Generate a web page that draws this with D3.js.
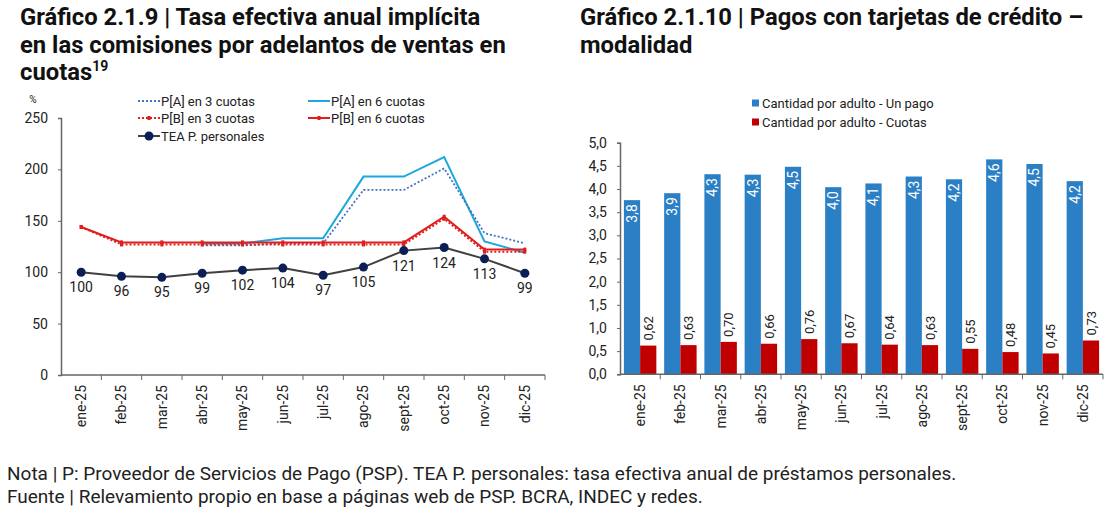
<!DOCTYPE html>
<html>
<head>
<meta charset="utf-8">
<script src="https://cdnjs.cloudflare.com/ajax/libs/d3/7.8.5/d3.min.js"></script>
<style>
  body { margin: 0; background: #fff; }
  svg { font-family: Roboto, "Noto Sans", sans-serif; }
</style>
</head>
<body>
<svg id="chart" width="1110" height="512"></svg>
<script>
// ---- data ----
var months = ["ene-25", "feb-25", "mar-25", "abr-25", "may-25", "jun-25", "jul-25", "ago-25", "sept-25", "oct-25", "nov-25", "dic-25"];

// Gráfico 2.1.9 (%)
var pa3 = [null, null, null, 126, 126, 128, 128, 180, 180, 201, 138, 128];
var pa6 = [null, null, null, 128, 128, 133, 133, 193, 193, 212, 130, 119];
var pb3 = [144, 127, 127, 127, 127, 127, 127, 127, 127, 152, 120, 120];
var pb6 = [144, 129, 129, 129, 129, 129, 129, 129, 129, 154, 122, 122];
var tea = [100, 96, 95, 99, 102, 104, 97, 105, 121, 124, 113, 99];
var leftTicks = [0, 50, 100, 150, 200, 250];

// Gráfico 2.1.10
var unPago = [3.76, 3.91, 4.32, 4.31, 4.48, 4.04, 4.12, 4.27, 4.21, 4.64, 4.54, 4.17];
var cuotas = [0.62, 0.63, 0.70, 0.66, 0.76, 0.67, 0.64, 0.63, 0.55, 0.48, 0.45, 0.73];
var rightTicks = [0, 0.5, 1, 1.5, 2, 2.5, 3, 3.5, 4, 4.5, 5];

var svg = d3.select("#chart");
var es = d3.formatLocale({decimal: ",", thousands: ".", grouping: [3], currency: ["$", ""]});
var f1 = es.format(".1f"), f2 = es.format(".2f");
var axisCol = "#666", txtCol = "#222";

// ---- titles ----
function title(x, lines) {
  var t = svg.append("text").attr("x", x).attr("y", 25)
    .style("font-size", "23.8px").style("font-weight", "bold").attr("fill", "#111");
  lines.forEach(function(l, i) {
    t.append("tspan").attr("x", x).attr("y", 25 + i * 27.5).text(l);
  });
  return t;
}
var t1 = title(20, ["Gráfico 2.1.9 | Tasa efectiva anual implícita", "en las comisiones por adelantos de ventas en", "cuotas"]);
t1.append("tspan").attr("dy", -9).style("font-size", "14px").text("19");
title(580, ["Gráfico 2.1.10 | Pagos con tarjetas de crédito –", "modalidad"]);

// ---- footer ----
svg.append("text").attr("x", 7).attr("y", 480).style("font-size", "19px").attr("fill", txtCol)
  .text("Nota | P: Proveedor de Servicios de Pago (PSP). TEA P. personales: tasa efectiva anual de préstamos personales.");
svg.append("text").attr("x", 7).attr("y", 503).style("font-size", "19px").attr("fill", txtCol)
  .text("Fuente | Relevamiento propio en base a páginas web de PSP. BCRA, INDEC y redes.");

// ---- shared helpers ----
function xAxisBand(x, yBase) {
  var g = svg.append("g");
  var edges = months.map(function(m) { return x(m); }).concat([x.range()[1]]);
  g.append("line").attr("x1", x.range()[0]).attr("x2", x.range()[1])
    .attr("y1", yBase).attr("y2", yBase).attr("stroke", axisCol).attr("stroke-width", 1.5);
  g.selectAll(".tk").data(edges.slice(1)).enter().append("line")
    .attr("x1", function(d) { return d; }).attr("x2", function(d) { return d; })
    .attr("y1", yBase).attr("y2", yBase + 5).attr("stroke", axisCol);
  g.selectAll(".lb").data(months).enter().append("text")
    .attr("transform", function(d) { return "translate(" + (x(d) + x.bandwidth() / 2) + "," + (yBase + 10) + ") rotate(-90)"; })
    .attr("text-anchor", "end").attr("dy", "0.35em")
    .style("font-size", "14px").attr("fill", txtCol).text(function(d) { return d; });
}
function yAxis(y, xPos, ticks, fmt) {
  var ax = d3.axisLeft(y).tickValues(ticks).tickSize(3).tickPadding(10).tickFormat(fmt);
  var g = svg.append("g").attr("transform", "translate(" + xPos + ",0)").call(ax);
  g.select(".domain").attr("stroke", axisCol).attr("stroke-width", 1.5);
  g.selectAll(".tick line").attr("stroke", axisCol);
  g.selectAll(".tick text").style("font-size", "14px").attr("fill", txtCol).style("font-family", "Roboto, sans-serif");
}

// ================= left chart =================
var xL = d3.scaleBand().domain(months).range([61, 545]);
var yL = d3.scaleLinear().domain([0, 250]).range([375, 118]);
var cx = function(i) { return xL(months[i]) + xL.bandwidth() / 2; };

yAxis(yL, 61, leftTicks, function(d) { return d; });
xAxisBand(xL, 375);
svg.append("text").attr("x", 33).attr("y", 103).attr("text-anchor", "middle")
  .style("font-size", "10px").attr("fill", txtCol).text("%");

var lineL = function(arr) {
  return d3.line().defined(function(d) { return d != null; })
    .x(function(d, i) { return cx(i); }).y(function(d) { return yL(d); })(arr);
};
var blueDot = "#4472c4", blueSolid = "#1ea7dd", redL = "#e01e1e", teaLine = "#404040", teaDot = "#0b1f56";

svg.append("path").attr("d", lineL(pa6)).attr("fill", "none").attr("stroke", blueSolid).attr("stroke-width", 2);
svg.append("path").attr("d", lineL(pa3)).attr("fill", "none").attr("stroke", blueDot).attr("stroke-width", 1.8).attr("stroke-dasharray", "2,2");
svg.append("path").attr("d", lineL(pb6)).attr("fill", "none").attr("stroke", redL).attr("stroke-width", 2);
svg.append("path").attr("d", lineL(pb3)).attr("fill", "none").attr("stroke", redL).attr("stroke-width", 2).attr("stroke-dasharray", "2,2");
[pb6, pb3].forEach(function(arr) {
  svg.append("g").selectAll("rect").data(arr).enter().append("rect")
    .attr("x", function(d, i) { return cx(i) - 1.5; }).attr("y", function(d) { return yL(d) - 2; })
    .attr("width", 3).attr("height", 4).attr("fill", redL);
});
svg.append("path").attr("d", lineL(tea)).attr("fill", "none").attr("stroke", teaLine).attr("stroke-width", 2);
svg.append("g").selectAll("circle").data(tea).enter().append("circle")
  .attr("cx", function(d, i) { return cx(i); }).attr("cy", function(d) { return yL(d); })
  .attr("r", 4.5).attr("fill", teaDot);
svg.append("g").selectAll("text").data(tea).enter().append("text")
  .attr("x", function(d, i) { return cx(i); }).attr("y", function(d) { return yL(d) + 20; })
  .attr("text-anchor", "middle").style("font-size", "14px").attr("fill", txtCol)
  .text(function(d) { return d; });

// legend left
var legL = [
  {name: "P[A] en 3 cuotas", x: 138, y: 101, c: blueDot, dash: "2,2", mk: null},
  {name: "P[B] en 3 cuotas", x: 138, y: 118, c: redL, dash: "2,2", mk: "rect"},
  {name: "TEA P. personales", x: 138, y: 136, c: teaLine, dash: null, mk: "circle"},
  {name: "P[A] en 6 cuotas", x: 308, y: 101, c: blueSolid, dash: null, mk: null},
  {name: "P[B] en 6 cuotas", x: 308, y: 118, c: redL, dash: null, mk: "rect"}
];
legL.forEach(function(d) {
  var g = svg.append("g");
  g.append("line").attr("x1", d.x).attr("x2", d.x + 22).attr("y1", d.y).attr("y2", d.y)
    .attr("stroke", d.c).attr("stroke-width", 2).attr("stroke-dasharray", d.dash);
  if (d.mk === "rect") g.append("rect").attr("x", d.x + 9.5).attr("y", d.y - 2).attr("width", 3).attr("height", 4).attr("fill", d.c);
  if (d.mk === "circle") g.append("circle").attr("cx", d.x + 11).attr("cy", d.y).attr("r", 4.5).attr("fill", teaDot);
  g.append("text").attr("x", d.x + 23).attr("y", d.y).attr("dy", "0.35em")
    .style("font-size", "13px").attr("fill", txtCol).text(d.name);
});

// ================= right chart =================
var xR = d3.scaleBand().domain(months).range([620, 1103]);
var xSub = d3.scaleBand().domain(["un", "cu"]).range([0, xR.bandwidth()]).paddingInner(0).paddingOuter(0.24);
var yR = d3.scaleLinear().domain([0, 5]).range([374.3, 142.7]);
var blueB = "#2b80c5", redB = "#c00000";

yAxis(yR, 620, rightTicks, f1);

var grp = svg.append("g").selectAll("g").data(months).enter().append("g")
  .attr("transform", function(d) { return "translate(" + xR(d) + ",0)"; });
grp.append("rect").attr("x", xSub("un")).attr("width", xSub.bandwidth())
  .attr("y", function(d, i) { return yR(unPago[i]); })
  .attr("height", function(d, i) { return yR(0) - yR(unPago[i]); }).attr("fill", blueB);
grp.append("rect").attr("x", xSub("cu")).attr("width", xSub.bandwidth())
  .attr("y", function(d, i) { return yR(cuotas[i]); })
  .attr("height", function(d, i) { return yR(0) - yR(cuotas[i]); }).attr("fill", redB);
grp.append("text")
  .attr("transform", function(d, i) { return "translate(" + (xSub("un") + xSub.bandwidth() / 2) + "," + (yR(unPago[i]) + 4) + ") rotate(-90)"; })
  .attr("text-anchor", "end").attr("dy", "0.35em").style("font-size", "14px").attr("fill", "#fff")
  .text(function(d, i) { return f1(unPago[i]); });
grp.append("text")
  .attr("transform", function(d, i) { return "translate(" + (xSub("cu") + xSub.bandwidth() / 2) + "," + (yR(cuotas[i]) - 5) + ") rotate(-90)"; })
  .attr("text-anchor", "start").attr("dy", "0.35em").style("font-size", "13px").attr("fill", txtCol)
  .text(function(d, i) { return f2(cuotas[i]); });

xAxisBand(xR, 374.3);

// legend right
[{name: "Cantidad por adulto - Un pago", c: blueB, y: 103}, {name: "Cantidad por adulto - Cuotas", c: redB, y: 122}]
  .forEach(function(d) {
    svg.append("rect").attr("x", 752).attr("y", d.y - 3.5).attr("width", 7).attr("height", 7).attr("fill", d.c);
    svg.append("text").attr("x", 762).attr("y", d.y).attr("dy", "0.35em")
      .style("font-size", "13px").attr("fill", txtCol).text(d.name);
  });
</script>
</body>
</html>
